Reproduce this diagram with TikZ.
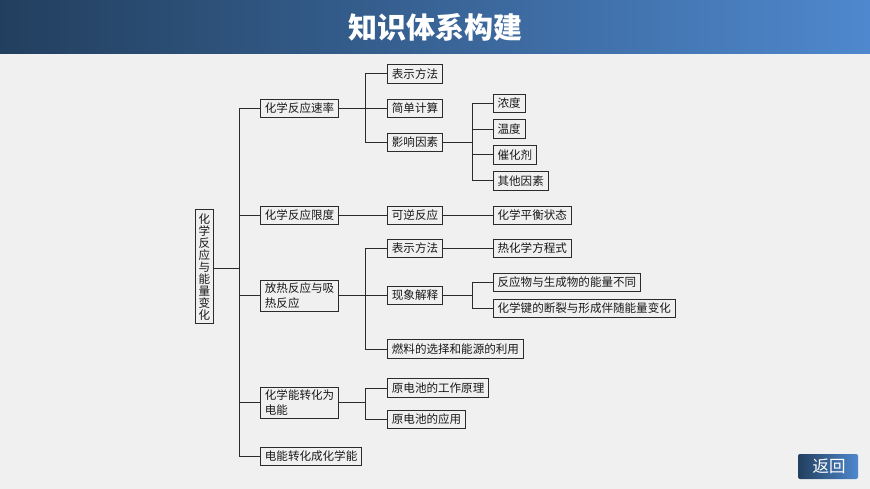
\documentclass[tikz,border=0pt]{standalone}
\usepackage{fontspec}
\usepackage{tikz}
\setmainfont{Noto Sans CJK SC}
\definecolor{bandleft}{HTML}{223F5E}
\definecolor{bandmid}{HTML}{3C6BA5}
\definecolor{bandright}{HTML}{4F88CE}
\definecolor{pagebg}{HTML}{F0F0F0}
\definecolor{inkline}{HTML}{2B2B2B}
\tikzset{
	conceptbox/.style={draw=inkline, line width=1pt, anchor=west, inner xsep=4.6pt, inner ysep=0pt, outer sep=0pt, minimum height=18.4pt, text=black!90, font=\fontsize{11.55}{15}\selectfont, align=left},
	link/.style={draw=inkline, line width=1pt},
}

\begin{document}
\begin{tikzpicture}[x=1pt,y=-1pt]
		\useasboundingbox (0,0) rectangle (870,489);
		\fill [pagebg] (0,0) rectangle (870,489);
		\shade [left color=bandleft, middle color=bandmid, right color=bandright] (0,0) rectangle (870,54);
		\node (title) [white, inner sep=0pt, font=\fontsize{29}{31}\bfseries\selectfont] at (435,27.6) {知识体系构建};
		
		\node (root) [conceptbox, anchor=center, inner xsep=0pt, minimum width=18.8pt, minimum height=113.4pt, align=center, font=\fontsize{11.55}{12}\selectfont] at (204.4,266.7) {化\\学\\反\\应\\与\\能\\量\\变\\化};
		\coordinate (trunk) at (239.5,268);
		
		\node (rate) [conceptbox] at (260.3,108.3) {化学反应速率};
		\node (limit) [conceptbox] at (260.3,215.5) {化学反应限度};
		\node (heat) [conceptbox, minimum height=31pt] at (260.3,295.5) {放热反应与吸\\热反应};
		\node (cell) [conceptbox, minimum height=31pt] at (260.3,402.5) {化学能转化为\\电能};
		\node (electro) [conceptbox] at (260.3,456.4) {电能转化成化学能};
		
		\node (notation) [conceptbox] at (387.3,74) {表示方法};
		\node (calc) [conceptbox] at (387.3,108.3) {简单计算};
		\node (factor) [conceptbox] at (387.3,142.3) {影响因素};
		\node (reversible) [conceptbox] at (387.3,215.5) {可逆反应};
		\node (notationb) [conceptbox] at (387.3,248.3) {表示方法};
		\node (explain) [conceptbox] at (387.3,295.5) {现象解释};
		\node (fuel) [conceptbox] at (387.3,349) {燃料的选择和能源的利用};
		\node (principle) [conceptbox] at (387.3,388) {原电池的工作原理};
		\node (apply) [conceptbox] at (387.3,419.2) {原电池的应用};
		
		\node (conc) [conceptbox] at (493,103.5) {浓度};
		\node (temp) [conceptbox] at (493,129.2) {温度};
		\node (catalyst) [conceptbox] at (493,154.9) {催化剂};
		\node (other) [conceptbox] at (493,180.9) {其他因素};
		\node (balance) [conceptbox] at (493,215.5) {化学平衡状态};
		\node (thermo) [conceptbox] at (493,248.3) {热化学方程式};
		\node (energy) [conceptbox] at (493,282.3) {反应物与生成物的能量不同};
		\node (bond) [conceptbox] at (493,308.3) {化学键的断裂与形成伴随能量变化};
		
		% trunk
		\draw [link] (root.east |- trunk) -- (trunk);
		\draw [link] (rate.west) -| (trunk);
		\draw [link] (electro.west) -| (trunk);
		\draw [link] (limit.west) -- (limit.west -| trunk);
		\draw [link] (heat.west) -- (heat.west -| trunk);
		\draw [link] (cell.west) -- (cell.west -| trunk);
		
		% second level
		\coordinate (ratehub) at (365.3,108.3);
		\coordinate (heathub) at (365.3,295.5);
		\coordinate (cellhub) at (365.3,402.5);
		\draw [link] (rate.east) -- (calc.west);
		\draw [link] (notation.west) -| (ratehub);
		\draw [link] (factor.west) -| (ratehub);
		\draw [link] (limit.east) -- (reversible.west);
		\draw [link] (heat.east) -- (explain.west);
		\draw [link] (notationb.west) -| (heathub);
		\draw [link] (fuel.west) -| (heathub);
		\draw [link] (cell.east) -- (cellhub);
		\draw [link] (principle.west) -| (cellhub);
		\draw [link] (apply.west) -| (cellhub);
		
		% third level
		\coordinate (factorhub) at (472.7,142.3);
		\coordinate (explainhub) at (472.7,295.5);
		\draw [link] (factor.east) -- (factorhub);
		\draw [link] (conc.west) -| (factorhub);
		\draw [link] (other.west) -| (factorhub);
		\draw [link] (temp.west) -- (temp.west -| factorhub);
		\draw [link] (catalyst.west) -- (catalyst.west -| factorhub);
		\draw [link] (reversible.east) -- (balance.west);
		\draw [link] (notationb.east) -- (thermo.west);
		\draw [link] (explain.east) -- (explainhub);
		\draw [link] (energy.west) -| (explainhub);
		\draw [link] (bond.west) -| (explainhub);
		
		\shade [rounded corners=2pt, left color=bandleft, right color=bandright] (798,454) rectangle (858,479);
		\node (back) [white, inner sep=0pt, font=\fontsize{16.5}{18}\selectfont] at (829,466.5) {返回};
	\end{tikzpicture}
\end{document}
